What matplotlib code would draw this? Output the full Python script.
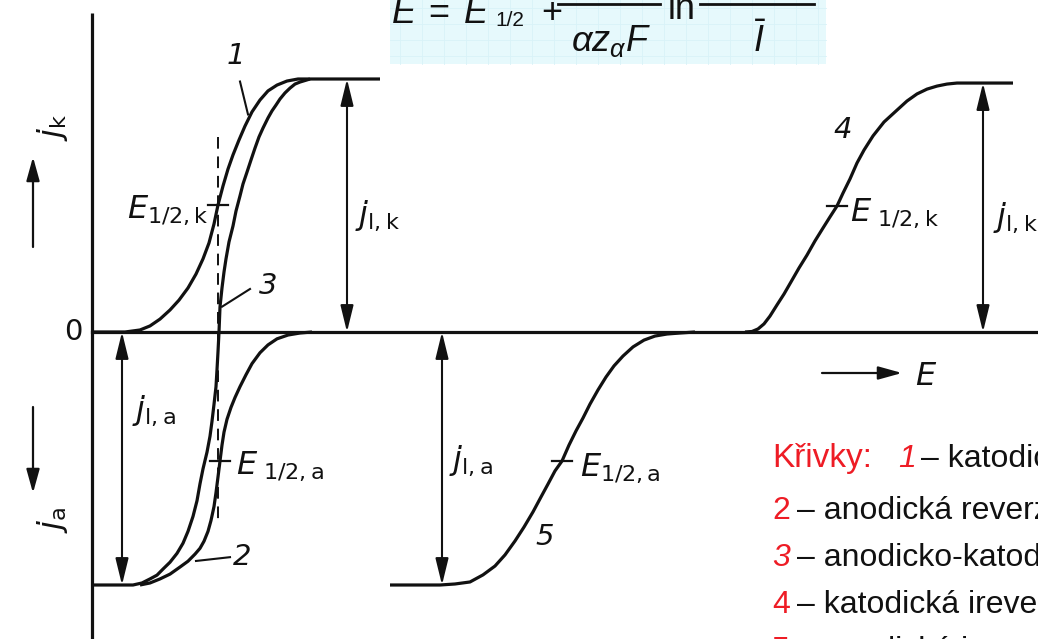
import matplotlib
matplotlib.use("Agg")
import matplotlib.pyplot as plt
import matplotlib.transforms as mtransforms
from matplotlib.patches import Rectangle
import numpy as np

plt.rcParams['font.family'] = ['Liberation Sans', 'DejaVu Sans']
plt.rcParams['mathtext.fontset'] = 'custom'
plt.rcParams['mathtext.rm'] = 'Liberation Sans'
plt.rcParams['mathtext.it'] = 'Liberation Sans:italic'
plt.rcParams['mathtext.bf'] = 'Liberation Sans:bold'

# polarizacni krivky: potencial E (relativni) a proudova hustota j (j > 0 katodicka, j < 0 anodicka)
# 1 - katodicka reverzibilni
E1 = [0.00, 0.33, 0.48, 0.58, 0.68, 0.78, 0.87, 0.96, 1.04, 1.11, 1.17, 1.22, 1.26, 1.31, 1.36,
      1.41, 1.47, 1.53, 1.60, 1.68, 1.76, 1.85, 1.95, 2.06, 2.88]
j1 = [0.00, 0.00, 0.008, 0.024, 0.051, 0.087, 0.126, 0.174, 0.229, 0.289, 0.352, 0.427, 0.502, 0.577,
      0.644, 0.700, 0.759, 0.814, 0.870, 0.917, 0.953, 0.976, 0.992, 1.00, 1.00]
# 2 - anodicka reverzibilni
E2 = [0.48, 0.58, 0.68, 0.78, 0.88, 0.96, 1.03, 1.08, 1.12, 1.16, 1.19, 1.22, 1.24, 1.26, 1.28,
      1.30, 1.32, 1.35, 1.39, 1.43, 1.48, 1.54, 1.60, 1.68, 1.76, 1.85, 1.96, 2.08, 2.20]
j2 = [-1.00, -0.992, -0.976, -0.957, -0.929, -0.906, -0.878, -0.855, -0.827, -0.788, -0.745,
      -0.690, -0.635, -0.573, -0.510, -0.447, -0.396, -0.345, -0.298, -0.259, -0.216, -0.169,
      -0.125, -0.082, -0.051, -0.027, -0.012, -0.004, 0.00]
# 3 - anodicko-katodicka reverzibilni
E3 = [0.00, 0.41, 0.50, 0.58, 0.65, 0.71, 0.78, 0.85, 0.91, 0.96, 1.01, 1.05, 1.08, 1.11, 1.15,
      1.18, 1.20, 1.22, 1.24, 1.25, 1.26, 1.27, 1.28, 1.30, 1.32, 1.34, 1.37, 1.41, 1.44, 1.48,
      1.51, 1.55, 1.59, 1.63, 1.67, 1.71, 1.76, 1.80, 1.84, 1.88, 1.93, 1.98, 2.03, 2.08, 2.18]
j3 = [-1.00, -1.00, -0.992, -0.976, -0.961, -0.937, -0.910, -0.875, -0.835, -0.788, -0.729,
      -0.667, -0.600, -0.541, -0.475, -0.412, -0.353, -0.286, -0.216, -0.149, -0.078, 0.00,
      0.099, 0.174, 0.237, 0.289, 0.356, 0.419, 0.478, 0.538, 0.585, 0.632, 0.680, 0.727,
      0.771, 0.806, 0.846, 0.874, 0.897, 0.921, 0.945, 0.964, 0.980, 0.988, 1.00]
# 4 - katodicka ireverzibilni
E4 = [6.53, 6.60, 6.66, 6.72, 6.78, 6.85, 6.92, 6.99, 7.07, 7.15, 7.23, 7.31, 7.38, 7.45, 7.51,
      7.58, 7.65, 7.72, 7.81, 7.92, 8.05, 8.15, 8.25, 8.35, 8.45, 8.55, 8.65, 9.21]
j4 = [0.00, 0.002, 0.012, 0.032, 0.063, 0.107, 0.150, 0.198, 0.253, 0.304, 0.360, 0.411, 0.455,
      0.498, 0.549, 0.605, 0.668, 0.719, 0.775, 0.830, 0.877, 0.913, 0.941, 0.960, 0.972, 0.980,
      0.984, 0.984]
# 5 - anodicka ireverzibilni
E5 = [2.98, 3.48, 3.63, 3.78, 3.91, 4.03, 4.13, 4.23, 4.32, 4.41, 4.49, 4.56, 4.63, 4.70, 4.77,
      4.84, 4.91, 4.98, 5.06, 5.14, 5.22, 5.31, 5.41, 5.52, 5.63, 5.75, 5.88, 6.03]
j5 = [-1.00, -1.00, -0.996, -0.988, -0.960, -0.925, -0.881, -0.826, -0.771, -0.711, -0.652,
      -0.601, -0.549, -0.510, -0.447, -0.391, -0.340, -0.285, -0.229, -0.178, -0.134, -0.095,
      -0.059, -0.032, -0.016, -0.008, -0.004, 0.00]

# pulvlnove potencialy (E, j) na krivkach 1, 2, 5, 4
half_E = [1.26, 1.28, 4.70, 7.45]
half_j = [0.502, -0.510, -0.510, 0.498]

# limitni proudy
jl_k = [1.00, 0.984]
jl_a = [-1.00, -1.00]

legend_nums = ["1", "2", "3", "4", "5"]
legend_texts = ["– katodická reverzibilní", "– anodická reverzibilní",
                "– anodicko-katodická reverzibilní", "– katodická ireverzibilní",
                "– anodická ireverzibilní"]

W, H = 1038, 639
fig = plt.figure(figsize=(W / 100, H / 100), dpi=100)
ax = fig.add_axes([0, 0, 1, 1])
ax.set_xlim(-0.92, 9.46)
ax.set_ylim(-307 / 253, 332 / 253)
ax.axis("off")

# pixelove souradnice od leveho horniho rohu
px = mtransforms.Affine2D().scale(1 / W, -1 / H).translate(0, 1) + fig.transFigure

ink = "#111111"
lw = 2.3

# osy
ax.plot([0, 0], [1.26, -1.25], color=ink, lw=lw, solid_capstyle="butt")
ax.plot([0, 9.6], [0, 0], color=ink, lw=lw)

for E, j in [(E1, j1), (E2, j2), (E3, j3), (E4, j4), (E5, j5)]:
    ax.plot(E, j, color=ink, lw=lw, solid_capstyle="butt", solid_joinstyle="round")

# carkovana cara pres E1/2
ax.plot([half_E[0], half_E[0]], [0.77, -0.76], color=ink, lw=1.4, ls=(0, (6, 4)))

# znacky pulvlnovych potencialu
for e, j in zip(half_E, half_j):
    ax.plot([e - 0.1, e + 0.1], [j, j], color=ink, lw=1.6)

def double_arrow(x, y0, y1):
    ax.annotate("", xy=(x, y1), xytext=(x, y0),
                arrowprops=dict(arrowstyle="<|-|>,head_length=0.9,head_width=0.22",
                                mutation_scale=18, lw=1.5, color=ink,
                                shrinkA=0, shrinkB=0))

double_arrow(2.55, 0, jl_k[0])
double_arrow(0.30, 0, jl_a[0])
double_arrow(3.50, 0, jl_a[1])
double_arrow(8.91, 0, jl_k[1])

lab = dict(color=ink, math_fontfamily="dejavusans", fontsize=23)
ax.text(2.63, 0.46, r"$j_{\mathrm{l,k}}$", ha="left", va="center", **lab)
ax.text(0.40, -0.31, r"$j_{\mathrm{l,a}}$", ha="left", va="center", **lab)
ax.text(3.57, -0.51, r"$j_{\mathrm{l,a}}$", ha="left", va="center", **lab)
ax.text(9.01, 0.45, r"$j_{\mathrm{l,k}}$", ha="left", va="center", **lab)

ax.text(1.17, 0.48, r"$E_{1/2,\mathrm{k}}$", ha="right", va="center", **lab)
ax.text(1.44, -0.53, r"$E_{\ 1/2,\mathrm{a}}$", ha="left", va="center", **lab)
ax.text(4.88, -0.54, r"$E_{1/2,\mathrm{a}}$", ha="left", va="center", **lab)
ax.text(7.58, 0.47, r"$E_{\ 1/2,\mathrm{k}}$", ha="left", va="center", **lab)

# cisla krivek s odkazovymi carami
num = dict(color=ink, fontsize=21, style="italic", ha="center", va="center",
           family="DejaVu Sans")
ax.text(1.44, 1.09, "1", **num)
ax.plot([1.48, 1.56], [0.99, 0.86], color=ink, lw=1.5)
ax.text(1.76, 0.18, "3", **num)
ax.plot([1.30, 1.58], [0.10, 0.17], color=ink, lw=1.5)
ax.text(1.50, -0.89, "2", **num)
ax.plot([1.04, 1.38], [-0.905, -0.89], color=ink, lw=1.5)
ax.text(7.51, 0.80, "4", **num)
ax.text(4.53, -0.81, "5", **num)

ax.text(73, 332, "0", transform=px, fontsize=21, color=ink, ha="center", va="center",
        family="DejaVu Sans")

# popisky os se sipkami
arr = dict(arrowstyle="-|>,head_length=0.9,head_width=0.25", mutation_scale=16,
           lw=1.6, color=ink, shrinkA=0, shrinkB=0)
ax.annotate("", xy=(33, 157), xytext=(33, 247), xycoords=px, textcoords=px, arrowprops=arr)
ax.annotate("", xy=(33, 493), xytext=(33, 407), xycoords=px, textcoords=px, arrowprops=arr)
ax.annotate("", xy=(902, 373), xytext=(822, 373), xycoords=px, textcoords=px, arrowprops=arr)
ax.text(52, 127, r"$j_{\mathrm{k}}$", transform=px, rotation=90, ha="center", va="center", **lab)
ax.text(52, 520, r"$j_{\mathrm{a}}$", transform=px, rotation=90, ha="center", va="center", **lab)
ax.text(926, 377, r"$E$", transform=px, ha="center", va="center", **lab)

# vzorec nahore v modrem poli (horni cast je oriznuta okrajem)
ax.add_patch(Rectangle((390, 0), 436, 64, transform=px, facecolor="#e6f9fc",
                       edgecolor="none", zorder=0))
for gx in np.arange(400, 826, 22):
    ax.plot([gx, gx], [0, 64], transform=px, color="#d8f2f8", lw=0.6, zorder=0)
for gy in np.arange(8, 64, 16):
    ax.plot([390, 826], [gy, gy], transform=px, color="#d8f2f8", lw=0.6, zorder=0)

fml = dict(transform=px, color=ink, va="baseline", math_fontfamily="custom")
ax.text(391, 23, r"$E$", fontsize=26, ha="left", **fml)
ax.text(428, 23, "=", fontsize=26, ha="left", color=ink, va="baseline", transform=px)
ax.text(463, 23, r"$E$", fontsize=26, ha="left", **fml)
ax.text(495, 26, "1/2", fontsize=15, ha="left", color=ink, va="baseline", transform=px)
ax.text(541, 23, "+", fontsize=26, ha="left", color=ink, va="baseline", transform=px)
ax.plot([558, 660], [4, 4], transform=px, color=ink, lw=2)
ax.text(611, 51, r"$\alpha z_{\alpha}F$", fontsize=26, ha="center", **fml)
ax.text(668, 19, "ln", fontsize=26, ha="left", color=ink, va="baseline", transform=px)
ax.plot([700, 814], [4, 4], transform=px, color=ink, lw=2)
ax.text(760, 52, r"$\bar{I}$", fontsize=26, ha="center", **fml)

# legenda krivek
red = "#ee1c25"
lfs = 23
base_y = [467, 519, 566, 613, 659]
ax.text(772, base_y[0], "Křivky:", transform=px, color=red, fontsize=lfs + 1, va="baseline")
ax.text(898, base_y[0], legend_nums[0], transform=px, color=red, fontsize=lfs, va="baseline",
        style="italic")
ax.text(921, base_y[0], legend_texts[0], transform=px, color=ink, fontsize=lfs, va="baseline")
num_italic = [False, False, True, False, False]
for k in range(1, 5):
    ax.text(772, base_y[k], legend_nums[k], transform=px, color=red, fontsize=lfs,
            va="baseline", style="italic" if num_italic[k] else "normal")
    ax.text(797, base_y[k], legend_texts[k], transform=px, color=ink, fontsize=lfs,
            va="baseline")

fig.savefig("out.png", dpi=100)
